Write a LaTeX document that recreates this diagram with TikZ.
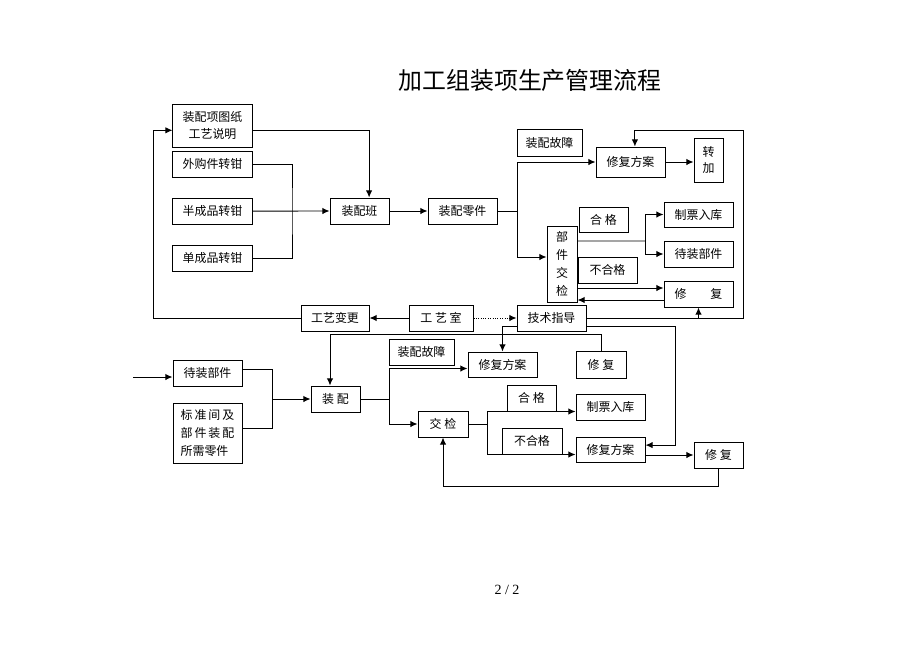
\documentclass[tikz,border=0pt]{standalone}
\usepackage{fontspec}
\setmainfont{Liberation Serif}
\newfontfamily\cjk{Noto Sans CJK SC}
\usepackage{tikz}
\usetikzlibrary{arrows.meta}
\tikzset{
  box/.style={draw, rectangle, line width=0.7pt, inner sep=0pt, align=center,
    font=\cjk\fontsize{8.5}{12}\selectfont},  % 方框
  arr/.style={-{Latex[length=5pt,width=4.5pt]}, line width=0.7pt},  % 箭头
  link/.style={line width=0.7pt}  % 无箭头连线
}

\begin{document}
\begin{tikzpicture}[x=0.025cm, y=-0.025cm, node distance=1.175cm]
  \useasboundingbox (0,0) rectangle (920,651);

  % 标题
  \node (title) at (530,80) {\cjk\fontsize{17}{20}\selectfont 加工组装项生产管理流程};

  % 上半部分:左列输入
  \node (tuzhi) [box, minimum width=1.975cm, minimum height=1.075cm] at (212.5,125.5) {装配项图纸\\工艺说明};
  \node (waigou) [box, minimum width=1.975cm, minimum height=0.65cm] at (212.5,164) {外购件转钳};
  \node (banchengpin) [box, minimum width=1.975cm, minimum height=0.65cm, below of=waigou] {半成品转钳};
  \node (danchengpin) [box, minimum width=1.975cm, minimum height=0.65cm, below of=banchengpin] {单成品转钳};
  \node (zpban) [box, minimum width=1.475cm, minimum height=0.65cm] at (359.5,211) {装配班};
  \node (zplj) [box, minimum width=1.725cm, minimum height=0.65cm] at (462.5,211) {装配零件};

  % 上半部分:右侧
  \node (guzhang1) [box, minimum width=1.625cm, minimum height=0.675cm] at (549.5,142.5) {装配故障};
  \node (xiufa1) [box, minimum width=1.725cm, minimum height=0.75cm] at (630.5,162) {修复方案};
  \node (zhuanjia) [box, minimum width=0.725cm, minimum height=1.1cm] at (708.5,160) {转\\加};
  \node (hege1) [box, minimum width=1.225cm, minimum height=0.625cm] at (603.5,219.5) {合 格};
  \node (jiaojian1) [box, minimum width=0.75cm, minimum height=1.9cm, font=\cjk\fontsize{8.5}{12.6}\selectfont] at (562,264) {部\\件\\交\\检};
  \node (buhege1) [box, minimum width=1.475cm, minimum height=0.65cm] at (607.5,270) {不合格};
  \node (zhipiao1) [box, minimum width=1.725cm, minimum height=0.625cm] at (698.5,214.5) {制票入库};
  \node (daizhuang1) [box, minimum width=1.725cm, minimum height=0.65cm] at (698.5,254) {待装部件};
  \node (xiufu1) [box, minimum width=1.725cm, minimum height=0.65cm] at (698.5,294) {修\hspace{2em}复};

  % 中间一行:工艺室
  \node (biangeng) [box, minimum width=1.7cm, minimum height=0.65cm] at (335,318) {工艺变更};
  \node (gongyishi) [box, minimum width=1.6cm, minimum height=0.65cm] at (441,318) {工 艺 室};
  \node (jishu) [box, minimum width=1.725cm, minimum height=0.65cm] at (551.5,318) {技术指导};

  % 下半部分
  \node (guzhang2) [box, minimum width=1.625cm, minimum height=0.65cm] at (421.5,352) {装配故障};
  \node (xiufa2) [box, minimum width=1.725cm, minimum height=0.625cm] at (502.5,364.5) {修复方案};
  \node (xiufu2) [box, minimum width=1.25cm, minimum height=0.675cm] at (601,364.5) {修 复};
  \node (daizhuang2) [box, minimum width=1.725cm, minimum height=0.65cm] at (207.5,373) {待装部件};
  \node (biaozhun) [box, minimum width=1.725cm, minimum height=1.5cm, align=left, font=\cjk\fontsize{8.5}{12.8}\selectfont] at (207.5,433) {标\,准\,间\,及\\部\,件\,装\,配\\所需零件};
  \node (zhuangpei) [box, minimum width=1.225cm, minimum height=0.65cm] at (335.5,399) {装 配};
  \node (jiaojian2) [box, minimum width=1.25cm, minimum height=0.65cm] at (443,424) {交 检};
  \node (hege2) [box, minimum width=1.225cm, minimum height=0.65cm] at (531.5,398) {合 格};
  \node (zhipiao2) [box, minimum width=1.725cm, minimum height=0.65cm] at (610.5,407) {制票入库};
  \node (buhege2) [box, minimum width=1.5cm, minimum height=0.65cm] at (532,441) {不合格};
  \node (xiufa3) [box, minimum width=1.725cm, minimum height=0.625cm] at (610.5,449.5) {修复方案};
  \node (xiufu3) [box, minimum width=1.225cm, minimum height=0.65cm] at (718.5,455) {修 复};

  % 页码
  \node (page) at (507,590) {\fontsize{10}{12}\selectfont 2 / 2};

  % 辅助点
  \coordinate (hb1) at (292,211);
  \coordinate (fz1) at (517,211);
  \coordinate (fz2) at (645,241);
  \coordinate (cr1) at (743,130);
  \coordinate (cr2) at (675,0);
  \coordinate (cr3) at (330,334);
  \coordinate (fb) at (153,0);
  \coordinate (r1) at (0,288);
  \coordinate (r2) at (0,300);
  \coordinate (in1) at (133,377);
  \coordinate (hb2) at (272,0);
  \coordinate (fz3) at (389,0);
  \coordinate (fz4) at (487,0);

  % 上半部分连线
  \draw[arr] ([yshift=-0.13cm]tuzhi.east) -| ([xshift=0.24cm]zpban.north);
  \draw[link] (waigou.east) -| (hb1) |- (danchengpin.east);
  \draw[arr] (banchengpin.east) -- (zpban.west);
  \draw[arr] (zpban.east) -- (zplj.west);
  \draw[link] (zplj.east) -- (fz1);
  \draw[arr] (fz1) |- (xiufa1.west);
  \draw[arr] (fz1) |- ([yshift=0.175cm]jiaojian1.west);
  \draw[arr] (xiufa1.east) -- (xiufa1.east -| zhuanjia.west);
  \draw[link] ([yshift=0.575cm]jiaojian1.east) -- (fz2);
  \draw[arr] (fz2) |- (zhipiao1.west);
  \draw[arr] (fz2) |- (daizhuang1.west);
  \draw[arr] (jiaojian1.east |- r1) -- (xiufu1.west |- r1);
  \draw[arr] (xiufu1.west |- r2) -- (jiaojian1.east |- r2);

  % 工艺室与技术指导
  \draw[arr] (gongyishi) -- (biangeng);
  \draw[arr, densely dotted] (gongyishi) -- (jishu);
  \draw[arr] (biangeng.west) -| ([yshift=-0.12cm]tuzhi.west -| fb) -- ([yshift=-0.12cm]tuzhi.west);
  \draw[arr] (jishu.east) -| (cr1) -| ([xshift=0.11cm]xiufa1.north);
  \draw[arr] (jishu.east -| xiufu1.south) -- (xiufu1.south);
  \draw[arr] ([yshift=-0.2cm]jishu.east) -| ([yshift=0.11cm]cr2 |- xiufa3.east) -- ([yshift=0.11cm]xiufa3.east);
  \draw[arr] ([yshift=-0.2cm]jishu.west) -| (xiufa2.north);

  % 下半部分连线
  \draw[arr] (in1) -- (in1 -| daizhuang2.west);
  \draw[link] ([yshift=0.1cm]daizhuang2.east) -| ([yshift=0.12cm]biaozhun.east -| hb2) -- ([yshift=0.12cm]biaozhun.east);
  \draw[arr] (zhuangpei.west -| hb2) -- (zhuangpei.west);
  \draw[arr] (xiufu2.north) |- (cr3) -- (cr3 |- zhuangpei.north);
  \draw[link] (zhuangpei.east) -- (zhuangpei.east -| fz3);
  \draw[arr] (zhuangpei.east -| fz3) |- ([yshift=-0.1cm]xiufa2.west);
  \draw[arr] (zhuangpei.east -| fz3) |- (jiaojian2.west);
  \draw[link] (jiaojian2.east) -- (jiaojian2.east -| fz4);
  \draw[arr] (jiaojian2.east -| fz4) |- (hege2.south -| zhipiao2.west);
  \draw[arr] (jiaojian2.east -| fz4) |- (buhege2.south -| xiufa3.west);
  \draw[arr] (xiufa3.east |- xiufu3.west) -- (xiufu3.west);
  \draw[arr] (xiufu3.south) -- ++(0,18) -| (jiaojian2.south);

\end{tikzpicture}
\end{document}
